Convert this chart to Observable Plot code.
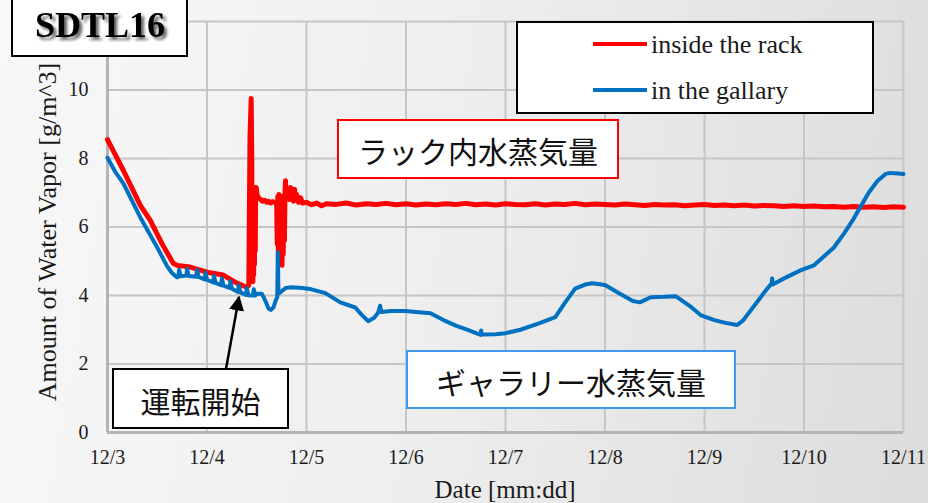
<!DOCTYPE html>
<html>
<head>
<meta charset="utf-8">
<script src="https://cdn.jsdelivr.net/npm/d3@7"></script>
<script src="https://cdn.jsdelivr.net/npm/@observablehq/plot@0.6"></script>
<style>
  html, body { margin: 0; padding: 0; }
  body { width: 928px; height: 503px; overflow: hidden;
         background: linear-gradient(100deg, #f8f8f8 0%, #efefef 45%, #dcdcdc 100%); }
</style>
</head>
<body>
<div id="chart"></div>
<script>
// ---- data (day of December, g/m^3) ----
const dayTicks = [3, 4, 5, 6, 7, 8, 9, 10, 11];
const gridValues = [0, 2, 4, 6, 8, 10, 12];
const valueTicks = [0, 2, 4, 6, 8, 10];
const seriesNames = ["inside the rack", "in the gallary"];
const seriesColors = ["#ff0000", "#0070c0"];

const rackSeries = [
  [3.00, 8.55], [3.08, 8.10], [3.16, 7.65], [3.33, 6.63], [3.43, 6.19], [3.55, 5.50],
  [3.66, 4.94], [3.70, 4.88], [3.83, 4.83], [4.00, 4.68], [4.16, 4.60], [4.30, 4.36],
  [4.40, 4.24], [4.42, 4.30], [4.432, 8.60], [4.444, 9.75], [4.450, 8.00], [4.453, 4.50],
  [4.457, 7.10], [4.461, 4.40], [4.465, 7.00], [4.469, 4.60], [4.473, 6.90], [4.477, 4.90],
  [4.481, 7.00], [4.485, 5.30], [4.489, 6.95], [4.495, 7.15], [4.504, 6.92], [4.52, 6.85],
  [4.54, 6.80], [4.56, 6.75], [4.58, 6.78], [4.60, 6.72], [4.62, 6.75], [4.64, 6.70],
  [4.66, 6.74], [4.68, 6.72], [4.70, 6.70], [4.706, 5.50], [4.712, 6.90], [4.718, 5.00],
  [4.724, 6.95], [4.730, 4.95], [4.736, 6.90], [4.742, 4.90], [4.748, 6.80], [4.754, 4.88],
  [4.760, 6.90], [4.766, 5.20], [4.772, 6.85], [4.778, 5.60], [4.784, 7.00], [4.789, 7.35],
  [4.795, 6.90], [4.80, 7.10], [4.81, 6.85], [4.82, 7.05], [4.83, 6.80], [4.84, 7.15],
  [4.85, 6.82], [4.86, 7.00], [4.87, 6.75], [4.88, 7.10], [4.89, 6.80], [4.90, 6.95],
  [4.92, 6.72], [4.94, 6.85], [4.96, 6.70], [5.00, 6.72], [5.05, 6.65], [5.10, 6.70],
  [5.15, 6.62], [5.20, 6.68], [5.30, 6.66], [5.40, 6.70], [5.50, 6.64], [5.60, 6.68],
  [5.70, 6.66], [5.80, 6.69], [5.90, 6.65], [6.00, 6.68], [6.10, 6.64], [6.20, 6.67],
  [6.30, 6.65], [6.40, 6.68], [6.50, 6.66], [6.60, 6.69], [6.70, 6.65], [6.80, 6.67],
  [6.90, 6.64], [7.00, 6.68], [7.10, 6.66], [7.20, 6.65], [7.30, 6.68], [7.40, 6.64],
  [7.50, 6.67], [7.60, 6.66], [7.70, 6.69], [7.80, 6.65], [7.90, 6.67], [8.00, 6.66],
  [8.10, 6.64], [8.20, 6.67], [8.30, 6.65], [8.40, 6.63], [8.50, 6.66], [8.60, 6.64],
  [8.70, 6.65], [8.80, 6.62], [8.90, 6.64], [9.00, 6.66], [9.10, 6.63], [9.20, 6.64],
  [9.30, 6.62], [9.40, 6.64], [9.50, 6.61], [9.60, 6.63], [9.70, 6.62], [9.80, 6.60],
  [9.90, 6.62], [10.00, 6.60], [10.10, 6.61], [10.20, 6.59], [10.30, 6.60], [10.40, 6.58],
  [10.50, 6.60], [10.60, 6.58], [10.70, 6.59], [10.80, 6.57], [10.90, 6.59], [11.00, 6.58]
];

const gallerySeries = [
  [3.00, 8.02], [3.08, 7.60], [3.16, 7.27], [3.33, 6.28], [3.50, 5.40], [3.60, 4.85],
  [3.65, 4.65], [3.70, 4.53],
  [3.712, 4.55], [3.720, 4.75], [3.735, 4.56],
  [3.792, 4.58], [3.800, 4.78], [3.815, 4.57],
  [3.892, 4.55], [3.900, 4.75], [3.915, 4.54],
  [3.977, 4.47], [3.985, 4.67], [4.000, 4.46],
  [4.062, 4.38], [4.070, 4.58], [4.085, 4.37],
  [4.142, 4.30], [4.150, 4.50], [4.165, 4.29],
  [4.227, 4.22], [4.235, 4.42], [4.250, 4.20],
  [4.312, 4.10], [4.320, 4.30], [4.335, 4.09],
  [4.392, 4.02], [4.400, 4.22], [4.415, 4.01],
  [4.462, 4.00], [4.470, 4.18], [4.485, 4.00],
  [4.50, 4.05], [4.55, 4.05], [4.57, 3.95], [4.60, 3.75], [4.618, 3.62], [4.64, 3.58],
  [4.668, 3.65], [4.69, 3.85], [4.706, 3.95], [4.712, 5.26], [4.718, 4.05], [4.74, 4.10],
  [4.79, 4.22], [4.85, 4.24], [4.96, 4.22], [5.05, 4.18], [5.19, 4.07], [5.34, 3.80],
  [5.49, 3.65], [5.55, 3.45], [5.62, 3.25], [5.68, 3.35], [5.72, 3.50], [5.74, 3.70],
  [5.75, 3.52], [5.85, 3.55], [5.995, 3.55], [6.10, 3.52], [6.246, 3.48], [6.40, 3.25],
  [6.50, 3.12], [6.60, 3.02], [6.75, 2.85], [6.755, 2.98], [6.76, 2.86], [6.90, 2.87],
  [7.00, 2.90], [7.15, 3.00], [7.35, 3.20], [7.50, 3.37], [7.60, 3.80], [7.70, 4.20],
  [7.80, 4.32], [7.87, 4.36], [7.95, 4.33], [8.005, 4.30], [8.15, 4.05], [8.28, 3.84],
  [8.35, 3.80], [8.46, 3.95], [8.60, 3.96], [8.71, 3.98], [8.85, 3.70], [8.96, 3.43],
  [9.10, 3.28], [9.21, 3.20], [9.33, 3.14], [9.39, 3.28], [9.50, 3.70], [9.63, 4.20],
  [9.675, 4.35], [9.68, 4.50], [9.685, 4.32], [9.80, 4.50], [9.97, 4.74], [10.10, 4.88],
  [10.30, 5.40], [10.40, 5.80], [10.49, 6.20], [10.55, 6.50], [10.65, 7.00], [10.74, 7.35],
  [10.82, 7.55], [10.87, 7.58], [10.95, 7.56], [11.00, 7.55]
];

const serif = "'Liberation Serif', 'Times New Roman', serif";
const jp = "'Noto Sans CJK JP', sans-serif";

const chart = Plot.plot({
  width: 928,
  height: 503,
  marginLeft: 107,
  marginRight: 25,
  marginTop: 21,
  marginBottom: 71,
  style: { background: "transparent", fontFamily: serif, fontSize: "20px", color: "#1a1a1a", overflow: "visible" },
  x: { domain: [3, 11], ticks: dayTicks, tickFormat: d => `12/${d}`, label: null },
  y: { domain: [0, 12], ticks: valueTicks, label: null },
  marks: [
    Plot.gridY(gridValues, { stroke: "#c6c6c6", strokeOpacity: 1, strokeWidth: 2 }),
    Plot.gridX(dayTicks, { stroke: "#c6c6c6", strokeOpacity: 1, strokeWidth: 2 }),
    Plot.ruleY([0], { stroke: "#b4b4b4", strokeWidth: 3 }),
    Plot.ruleX([3], { stroke: "#b4b4b4", strokeWidth: 3 }),
    Plot.axisY(valueTicks, { tickSize: 0, tickPadding: 19, fontSize: 20, label: null }),
    Plot.axisX(dayTicks, { tickSize: 0, tickPadding: 17, fontSize: 20, label: null, tickFormat: d => `12/${d}` }),
    Plot.line(rackSeries, { x: d => d[0], y: d => d[1], stroke: seriesColors[0], strokeWidth: 5, strokeLinejoin: "round" }),
    Plot.line(gallerySeries, { x: d => d[0], y: d => d[1], stroke: seriesColors[1], strokeWidth: 4, strokeLinejoin: "round" })
  ]
});
document.getElementById("chart").appendChild(chart);

// ---- overlay annotations ----
const svg = d3.select(chart);
const defs = svg.append("defs");
const shadow = defs.append("filter").attr("id", "shadow")
  .attr("x", "-20%").attr("y", "-20%").attr("width", "140%").attr("height", "160%");
shadow.append("feGaussianBlur").attr("in", "SourceAlpha").attr("stdDeviation", 1.6).attr("result", "b");
shadow.append("feOffset").attr("in", "b").attr("dx", 3).attr("dy", 3).attr("result", "o");
shadow.append("feComponentTransfer").attr("in", "o").attr("result", "s")
  .append("feFuncA").attr("type", "linear").attr("slope", 0.6);
const merge = shadow.append("feMerge");
merge.append("feMergeNode").attr("in", "s");
merge.append("feMergeNode").attr("in", "SourceGraphic");

defs.append("marker").attr("id", "arrow").attr("viewBox", "0 0 10 10").attr("refX", 9).attr("refY", 5)
  .attr("markerWidth", 6).attr("markerHeight", 6).attr("orient", "auto")
  .append("path").attr("d", "M0,0 L10,5 L0,10 z").attr("fill", "#000");

const g = svg.append("g").attr("text-anchor", "start");

// axis titles
g.append("text").attr("transform", "translate(56,232) rotate(-90)").attr("text-anchor", "middle")
  .style("font-family", serif).style("font-size", "26px").attr("fill", "#1a1a1a")
  .text("Amount of Water Vapor [g/m^3]");
g.append("text").attr("x", 505).attr("y", 498).attr("text-anchor", "middle")
  .style("font-family", serif).style("font-size", "25px").attr("fill", "#1a1a1a")
  .text("Date [mm:dd]");

// title box
g.append("rect").attr("x", 12).attr("y", -5).attr("width", 175).attr("height", 61)
  .attr("fill", "#fff").attr("stroke", "#000").attr("stroke-width", 2);
g.append("text").attr("x", 100).attr("y", 37).attr("text-anchor", "middle")
  .style("font-family", serif).style("font-size", "36px").style("font-weight", "bold")
  .attr("fill", "#000").attr("filter", "url(#shadow)").text("SDTL16");

// legend
g.append("rect").attr("x", 517).attr("y", 22).attr("width", 356).attr("height", 91)
  .attr("fill", "#fff").attr("stroke", "#000").attr("stroke-width", 2);
[44, 90].forEach((ly, i) => {
  g.append("line").attr("x1", 593).attr("x2", 647).attr("y1", ly).attr("y2", ly)
    .attr("stroke", seriesColors[i]).attr("stroke-width", 4);
  g.append("text").attr("x", 651).attr("y", ly + 9).attr("text-anchor", "start")
    .style("font-family", serif).style("font-size", "26px").attr("fill", "#1a1a1a")
    .text(seriesNames[i]);
});

// annotation boxes
function box(x, y, w, h, stroke, label, size) {
  g.append("rect").attr("x", x).attr("y", y).attr("width", w).attr("height", h)
    .attr("fill", "#fff").attr("stroke", stroke).attr("stroke-width", 2);
  g.append("text").attr("x", x + w / 2).attr("y", y + h / 2 + 1).attr("text-anchor", "middle")
    .attr("dominant-baseline", "central")
    .style("font-family", jp).style("font-size", size + "px").attr("fill", "#111").text(label);
}
box(338, 120, 280, 58, "#ff0000", "ラック内水蒸気量", 30);
box(407, 351, 328, 57, "#3d9be9", "ギャラリー水蒸気量", 30);
box(113, 369, 175, 59, "#000", "運転開始", 30);

g.append("line").attr("x1", 226).attr("y1", 369).attr("x2", 239).attr("y2", 297)
  .attr("stroke", "#000").attr("stroke-width", 2.5).attr("marker-end", "url(#arrow)");
</script>
</body>
</html>
